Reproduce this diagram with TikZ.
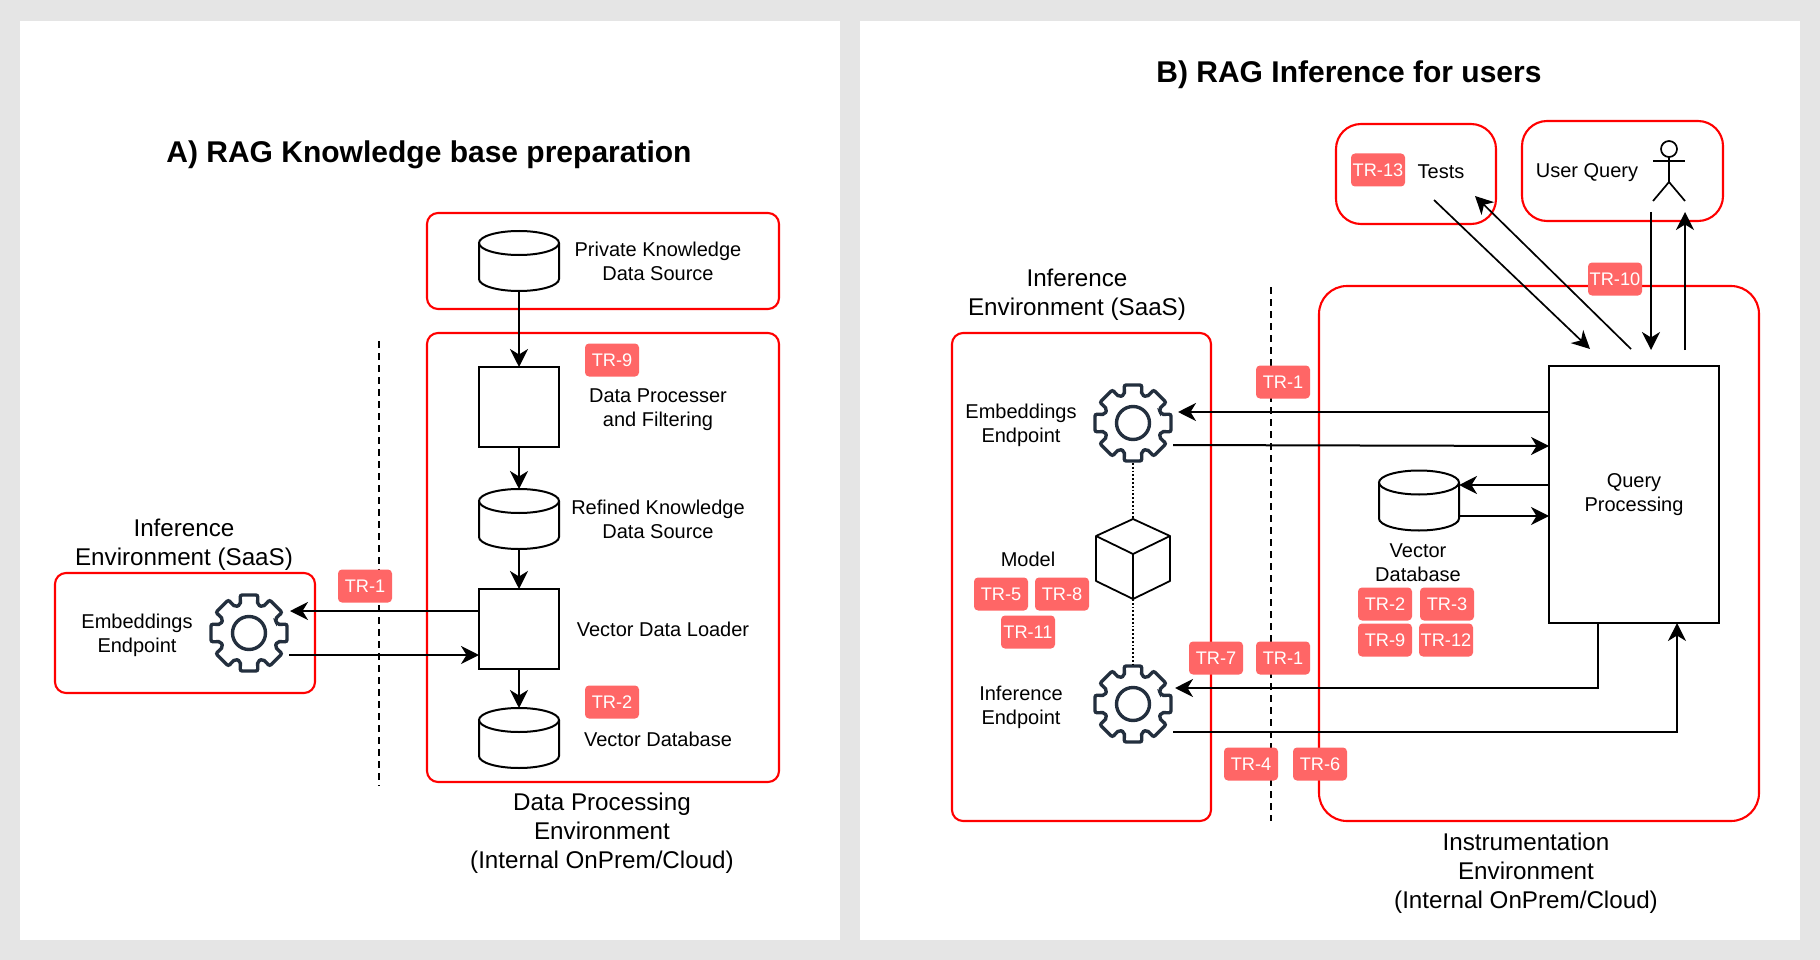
\documentclass[tikz,border=0pt]{standalone}
\usepackage{fontspec}
\setmainfont{Liberation Sans}
\usetikzlibrary{arrows.meta}
\definecolor{tagred}{HTML}{FF6666}
\definecolor{gearblue}{HTML}{232F3E}
\tikzset{
  envbox/.style = {draw=red,line width=2.1pt,rounded corners=11pt,inner sep=0pt,outer sep=0pt},
  flowbox/.style = {draw=black,line width=2pt,inner sep=0pt,outer sep=0pt,minimum size=80pt},
  dbnode/.style = {inner sep=0pt,outer sep=0pt,minimum width=80pt,minimum height=60pt},
  tag/.style = {fill=tagred,text=white,rounded corners=4pt,minimum width=54pt,minimum height=33pt,
    inner sep=0pt,font=\fontsize{18.2}{22}\selectfont},
  txt/.style = {align=center,inner sep=0pt,font=\fontsize{20}{24}\selectfont},
  bigtxt/.style = {align=center,inner sep=0pt,font=\fontsize{24.2}{29}\selectfont},
  heading/.style = {inner sep=0pt,font=\fontsize{30}{36}\selectfont\bfseries},
  link/.style = {draw=black,line width=2pt,-{Stealth[length=18pt,width=18pt,inset=5.5pt]}},
  gearnode/.style = {circle,minimum size=80pt,inner sep=0pt,outer sep=0pt},
  gear/.pic = {
    \draw[gearblue,line width=3.4pt,rounded corners=2pt] (-22.5:29.5)
      \foreach \a in {0,45,...,315} {-- (\a-17:29.5) -- (\a-13:39) -- (\a+13:39) -- (\a+17:29.5)} -- cycle;
    \draw[gearblue,line width=3.4pt] (0,0) circle (16.5);
  },
  dbcyl/.pic = {
    \draw[line width=2pt] (-40,-18) -- (-40,18) arc[start angle=180,end angle=360,x radius=40pt,y radius=12pt] -- (40,-18);
    \draw[line width=2pt] (0,-18) ellipse (40pt and 12pt);
  }
}

\begin{document}
\begin{tikzpicture}[x=1pt,y=-1pt]
  \fill[black!10] (0,0) rectangle (1820,960);
  \fill[white] (20,21) rectangle (840,940);
  \fill[white] (860,21) rectangle (1800,940);

  \node (titleA) [heading] at (429,155) {A) RAG Knowledge base preparation};
  \node (titleB) [heading] at (1349,75) {B) RAG Inference for users};

  \draw[black,line width=1.7pt,dashed,dash pattern=on 7pt off 5pt] (379,341) -- (379,786);
  \draw[black,line width=1.7pt,dashed,dash pattern=on 7pt off 5pt] (1271,287) -- (1271,821);

  \node (sourceEnv) [envbox,minimum width=352pt,minimum height=96pt] at (603,261) {};
  \node (dataEnv) [envbox,minimum width=352pt,minimum height=449pt] at (603,557.5) {};
  \node (saasEnvA) [envbox,minimum width=260pt,minimum height=120pt] at (185,633) {};
  \node (saasEnvB) [envbox,minimum width=259pt,minimum height=488pt] at (1081.5,577) {};
  \node (instEnv) [envbox,rounded corners=28pt,minimum width=440pt,minimum height=535pt] at (1539,553.5) {};
  \node (testsEnv) [envbox,rounded corners=25pt,minimum width=160pt,minimum height=100pt] at (1416,174) {};
  \node (userEnv) [envbox,rounded corners=25pt,minimum width=201pt,minimum height=100pt] at (1622.5,171) {};

  \node (srcDb) [dbnode] at (519,261) {};
  \node (procBox) [flowbox] at (519,407) {};
  \node (refDb) [dbnode] at (519,519) {};
  \node (loadBox) [flowbox] at (519,629) {};
  \node (vecDb) [dbnode] at (519,738) {};
  \node (vecDbB) [dbnode] at (1419,500.5) {};
  \node (queryBox) [draw=black,line width=2pt,inner sep=0pt,outer sep=0pt,minimum width=170pt,minimum height=257pt,
    align=center,font=\fontsize{20}{24}\selectfont] at (1634,494.5) {Query\\Processing};
  \pic at (srcDb) {dbcyl};
  \pic at (refDb) {dbcyl};
  \pic at (vecDb) {dbcyl};
  \pic at (vecDbB) {dbcyl};

  \node (gearA) [gearnode] at (249,633) {};
  \node (gearB) [gearnode] at (1133,423) {};
  \node (gearC) [gearnode] at (1133,704) {};
  \pic at (gearA) {gear};
  \pic at (gearB) {gear};
  \pic at (gearC) {gear};

  \coordinate (cubeTop) at (1133,519);
  \coordinate (cubeMid) at (1133,554);
  \coordinate (cubeBot) at (1133,599);
  \coordinate (cubeUL) at (1096,536);
  \coordinate (cubeUR) at (1170,536);
  \coordinate (cubeLL) at (1096,581);
  \coordinate (cubeLR) at (1170,581);
  \draw[line width=1.8pt,line join=round] (cubeTop) -- (cubeUR) -- (cubeLR) -- (cubeBot) -- (cubeLL) -- (cubeUL) -- cycle;
  \draw[line width=1.8pt,line join=round] (cubeUL) -- (cubeMid) -- (cubeUR);
  \draw[line width=1.8pt] (cubeMid) -- (cubeBot);
  \draw[line width=1.8pt,dotted] (gearB.south) -- (cubeTop);
  \draw[line width=1.8pt,dotted] (cubeBot) -- (gearC.north);

  \draw[line width=1.7pt] (1669,149) circle (8);
  \draw[line width=1.7pt] (1653,161) -- (1685,161);
  \draw[line width=1.7pt] (1669,157) -- (1669,182);
  \draw[line width=1.7pt] (1653,201) -- (1669,182) -- (1685,201);

  \coordinate (testsOut) at (1434,200);
  \coordinate (testsIn) at (1475,196);
  \coordinate (queryInA) at (1590,349);
  \coordinate (queryOutA) at (1631,349);
  \coordinate (userOut) at (1651,212);
  \coordinate (queryInB) at (1651,350);
  \coordinate (queryOutB) at (1685,350);
  \coordinate (userIn) at (1685,212);

  \draw[link] (srcDb.south) -- (procBox.north);
  \draw[link] (procBox.south) -- (refDb.north);
  \draw[link] (refDb.south) -- (loadBox.north);
  \draw[link] (loadBox.south) -- (vecDb.north);
  \draw[link] ([yshift=18pt]loadBox.west) -- ([xshift=1pt,yshift=22pt]gearA.east);
  \draw[link] ([yshift=-22pt]gearA.east) -- ([yshift=-26pt]loadBox.west);

  \draw[link,line width=1.7pt] (testsOut) -- (queryInA);
  \draw[link,line width=1.7pt] (queryOutA) -- (testsIn);
  \draw[link] (userOut) -- (queryInB);
  \draw[link] (queryOutB) -- (userIn);
  \draw[link] ([yshift=82.5pt]queryBox.west) -- ([xshift=5pt,yshift=11pt]gearB.east);
  \draw[link] ([yshift=-22pt]gearB.east) -- ([yshift=48.5pt]queryBox.west);
  \draw[link] ([yshift=9.5pt]queryBox.west) -- ([yshift=15.5pt]vecDbB.east);
  \draw[link] ([yshift=-15.5pt]vecDbB.east) -- ([yshift=-21.5pt]queryBox.west);
  \draw[link] ([xshift=-36pt]queryBox.south) |- ([xshift=2pt,yshift=16pt]gearC.east);
  \draw[link] ([yshift=-28pt]gearC.east) -| ([xshift=43pt]queryBox.south);

  \node (privTxt) [txt] at (658,261) {Private Knowledge\\Data Source};
  \node (procTxt) [txt] at (658,409.5) {Data Processer\\and Filtering};
  \node (refTxt) [txt] at (658,519) {Refined Knowledge\\Data Source};
  \node (loadTxt) [txt] at (663,629) {Vector Data Loader};
  \node (vecTxt) [txt] at (658,739) {Vector Database};
  \node (embTxtA) [txt] at (137,635) {Embeddings\\Endpoint};
  \node (infTxtA) [bigtxt] at (184,545) {Inference\\Environment (SaaS)};
  \node (dataTxt) [bigtxt] at (602,833) {Data Processing\\Environment\\(Internal OnPrem/Cloud)};

  \node (infTxtB) [bigtxt] at (1077,295) {Inference\\Environment (SaaS)};
  \node (embTxtB) [txt] at (1021,425) {Embeddings\\Endpoint};
  \node (modelTxt) [txt] at (1028,559) {Model};
  \node (infEpTxt) [txt] at (1021,707) {Inference\\Endpoint};
  \node (vecTxtB) [txt] at (1418,563) {Vector\\Database};
  \node (instTxt) [bigtxt] at (1526,873) {Instrumentation\\Environment\\(Internal OnPrem/Cloud)};
  \node (testsTxt) [txt] at (1441,171.5) {Tests};
  \node (userTxt) [txt] at (1587,173) {User Query};

  \node (tagA9) [tag] at (612,360) {TR-9};
  \node (tagA2) [tag] at (612,702) {TR-2};
  \node (tagA1) [tag] at (365,586) {TR-1};
  \node (tagB13) [tag] at (1378,170) {TR-13};
  \node (tagB10) [tag] at (1615,279) {TR-10};
  \node (tagB1a) [tag] at (1283,382) {TR-1};
  \node (tagB5) [tag] at (1001,594) {TR-5};
  \node (tagB8) [tag] at (1062,594) {TR-8};
  \node (tagB11) [tag] at (1028,632) {TR-11};
  \node (tagB7) [tag] at (1216,658) {TR-7};
  \node (tagB1b) [tag] at (1283,658) {TR-1};
  \node (tagB4) [tag] at (1251,764) {TR-4};
  \node (tagB6) [tag] at (1320,764) {TR-6};
  \node (tagB2) [tag] at (1385,604) {TR-2};
  \node (tagB3) [tag] at (1447,604) {TR-3};
  \node (tagB9) [tag] at (1385,640) {TR-9};
  \node (tagB12) [tag] at (1446,640) {TR-12};
\end{tikzpicture}
\end{document}
